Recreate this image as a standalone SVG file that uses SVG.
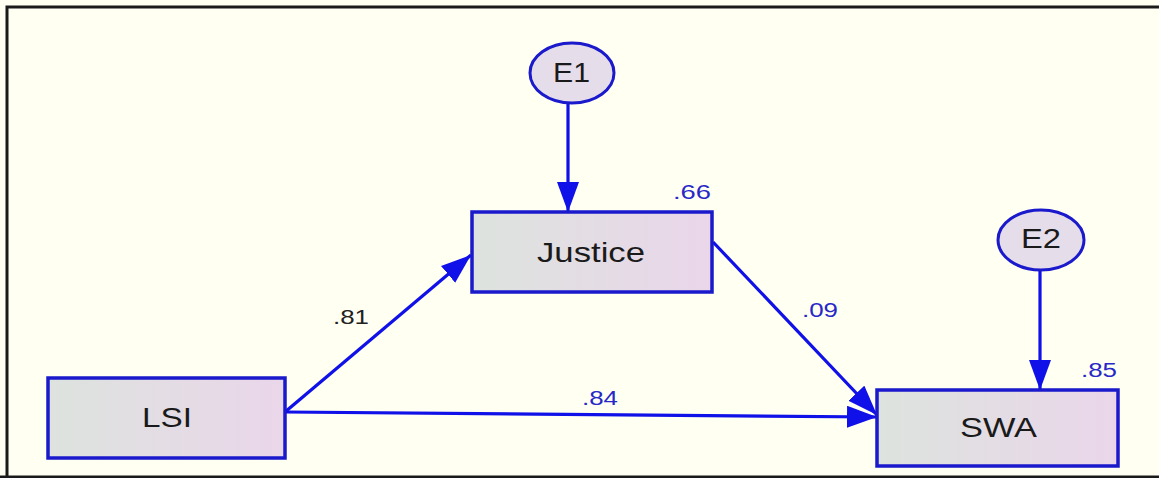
<svg xmlns="http://www.w3.org/2000/svg" width="1159" height="478" viewBox="0 0 1159 478">
  <defs>
    <linearGradient id="boxFill" x1="0" y1="0" x2="1" y2="0">
      <stop offset="0" stop-color="#DDE3DE"/>
      <stop offset="1" stop-color="#EAD6EA"/>
    </linearGradient>
    <marker id="arrow" markerUnits="userSpaceOnUse" markerWidth="32" markerHeight="24" refX="30" refY="11" orient="auto">
      <path d="M0,0 L30,11 L0,22 Z" fill="#1010E8"/>
    </marker>
    <style>
      .box { fill: url(#boxFill); stroke: #1A1ACC; stroke-width: 3.5; }
      .ell { fill: #E6DDEA; stroke: #1A1ACC; stroke-width: 3; }
      .lbl { font-family: "Liberation Sans", Arial, sans-serif; font-size: 28px; fill: #1a1a1a; }
      .num { font-family: "Liberation Sans", Arial, sans-serif; font-size: 20px; fill: #2828C8; }
      .numk { font-family: "Liberation Sans", Arial, sans-serif; font-size: 20px; fill: #222222; }
      .conn { stroke: #1010E8; stroke-width: 3.2; fill: none; marker-end: url(#arrow); }
    </style>
  </defs>
  <rect x="0" y="0" width="1159" height="478" fill="#FFFFF2"/>
  <path d="M7,478 V7 H1159" fill="none" stroke="#1a1a1a" stroke-width="3"/>
  <line x1="0" y1="477" x2="1159" y2="477" stroke="#1a1a1a" stroke-width="3"/>

  <g id="connectors">
    <line class="conn" x1="568" y1="104" x2="568" y2="212"/>
    <line class="conn" x1="1040" y1="271" x2="1040" y2="390"/>
    <line class="conn" x1="285" y1="412" x2="471" y2="255"/>
    <line class="conn" x1="285" y1="412" x2="877" y2="417"/>
    <line class="conn" x1="713" y1="242" x2="877" y2="415"/>
  </g>

  <g id="E1">
    <ellipse class="ell" cx="572" cy="73" rx="42" ry="30"/>
    <text class="lbl" x="553" y="82" textLength="37" lengthAdjust="spacingAndGlyphs">E1</text>
  </g>
  <g id="Justice">
    <rect class="box" x="472" y="212" width="240" height="80"/>
    <text class="lbl" x="537" y="262" textLength="108" lengthAdjust="spacingAndGlyphs">Justice</text>
    <text class="num" x="673" y="199" textLength="38" lengthAdjust="spacingAndGlyphs">.66</text>
  </g>
  <g id="LSI">
    <rect class="box" x="48" y="378" width="237" height="80"/>
    <text class="lbl" x="142" y="427" textLength="50" lengthAdjust="spacingAndGlyphs">LSI</text>
  </g>
  <g id="SWA">
    <rect class="box" x="877" y="390" width="241" height="76"/>
    <text class="lbl" x="960" y="437" textLength="77" lengthAdjust="spacingAndGlyphs">SWA</text>
    <text class="num" x="1081" y="377" textLength="36" lengthAdjust="spacingAndGlyphs">.85</text>
  </g>
  <g id="E2">
    <ellipse class="ell" cx="1041" cy="240" rx="43" ry="30"/>
    <text class="lbl" x="1021" y="248" textLength="40" lengthAdjust="spacingAndGlyphs">E2</text>
  </g>

  <g id="labels">
    <text class="numk" x="333" y="324" textLength="36" lengthAdjust="spacingAndGlyphs">.81</text>
    <text class="num" x="582" y="405" textLength="36" lengthAdjust="spacingAndGlyphs">.84</text>
    <text class="num" x="802" y="317" textLength="36" lengthAdjust="spacingAndGlyphs">.09</text>
  </g>
</svg>
